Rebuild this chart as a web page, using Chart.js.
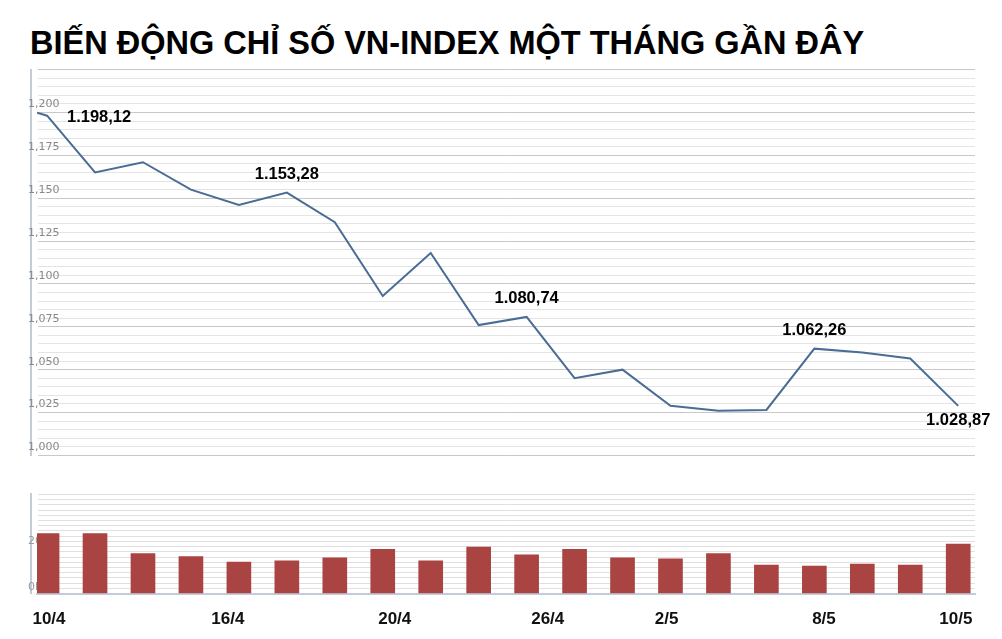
<!DOCTYPE html>
<html>
<head>
<meta charset="utf-8">
<script src="https://cdn.jsdelivr.net/npm/chart.js@4"></script>
<style>
body { margin: 0; background: #fff; width: 1002px; height: 639px; overflow: hidden; font-family: "Liberation Sans", Arial, sans-serif; }
h1 { position: absolute; left: 30px; top: 25px; margin: 0; font-size: 32.5px; font-weight: bold; color: #000; }
#top { position: absolute; left: 0; top: 66px; width: 1002px; height: 393px; }
#bot { position: absolute; left: 0; top: 488px; width: 1002px; height: 150px; }
</style>
</head>
<body>
<h1>BIẾN ĐỘNG CHỈ SỐ VN-INDEX MỘT THÁNG GẦN ĐÂY</h1>
<div id="top"><canvas id="lineChart"></canvas></div>
<div id="bot"><canvas id="barChart"></canvas></div>
<script>
// index values, one per session (first entry is the stub from the previous day)
const idxX = [-0.21, 0, 1, 2, 3, 4, 5, 6, 7, 8, 9, 10, 11, 12, 13, 14, 15, 16, 17, 18, 19]
const idxVal = [1199.8, 1198.12, 1165, 1171, 1155, 1146, 1153.28, 1136, 1093, 1118, 1076, 1080.74, 1045, 1050, 1029, 1026, 1026.5, 1062.26, 1060, 1056.5, 1028.87]
// labelled points: index into idxVal and text
const noteIdx = [1, 6, 11, 17, 20]
const noteText = ['1.198,12', '1.153,28', '1.080,74', '1.062,26', '1.028,87']
// volumes (millions)
const volX = [0, 1, 2, 3, 4, 5, 6, 7, 8, 9, 10, 11, 12, 13, 14, 15, 16, 17, 18, 19]
const volVal = [253, 253, 169, 156, 133, 138, 151, 187, 138, 196, 164, 187, 151, 147, 169, 120, 116, 124, 120, 209]
// date labels on the bottom axis
const dateLabels = ['10/4', '16/4', '20/4', '26/4', '2/5', '8/5', '10/5']
const datePos = [0.04, 3.77, 7.25, 10.44, 12.92, 16.2, 18.95]

const xMin = -0.21, xMax = 19.35

const notePlugin = {
    id: 'notes',
    afterDatasetsDraw(chart) {
        const ctx = chart.ctx
        const meta = chart.getDatasetMeta(0)
        ctx.save()
        ctx.font = 'bold 16.5px "Liberation Sans", Arial'
        ctx.fillStyle = '#000'
        ctx.textAlign = 'center'
        noteIdx.forEach((i, k) => {
            const p = meta.data[i]
            let dx = 0, dy = -14
            if (k === 0) { dx = 52; dy = 6 }
            if (k === 4) { dx = 0; dy = 19 }
            ctx.fillText(noteText[k], p.x + dx, p.y + dy)
        })
        ctx.restore()
    }
}

new Chart(document.getElementById('lineChart'), {
    type: 'line',
    data: {
        datasets: [{
            data: idxX.map((x, i) => ({ x: x, y: idxVal[i] })),
            borderColor: '#4a6d96',
            borderWidth: 2,
            pointRadius: 0,
            tension: 0
        }]
    },
    options: {
        responsive: true, maintainAspectRatio: false, animation: false,
        layout: { padding: { left: 37, right: 27, top: 0, bottom: 0 } },
        plugins: { legend: { display: false }, tooltip: { enabled: false } },
        scales: {
            x: { type: 'linear', min: xMin, max: xMax, display: false },
            y: {
                min: 1000, max: 1225,
                border: { color: '#c4ccd8', width: 2 },
                grid: {
                    color: c => c.tick.value % 25 === 0 ? '#c8c8c8' : '#e4e4e4',
                    drawTicks: false
                },
                ticks: {
                    stepSize: 5, autoSkip: false, mirror: true, padding: -3, labelOffset: -8,
                    color: '#888', font: { size: 11, family: 'Verdana, "DejaVu Sans"' },
                    callback: v => (v % 25 === 0 && v < 1225) ? v.toLocaleString('en-US') : ''
                }
            }
        }
    },
    plugins: [notePlugin]
})

new Chart(document.getElementById('barChart'), {
    type: 'bar',
    data: {
        datasets: [{
            data: volX.map((x, i) => ({ x: x, y: volVal[i] })),
            backgroundColor: '#a94442',
            barThickness: 24
        }]
    },
    options: {
        responsive: true, maintainAspectRatio: false, animation: false,
        layout: { padding: { left: 37, right: 27, top: 6, bottom: 0 } },
        plugins: { legend: { display: false }, tooltip: { enabled: false } },
        scales: {
            x: {
                type: 'linear', min: xMin, max: xMax, offset: false,
                border: { color: '#c4ccd8', width: 2 },
                grid: { display: false },
                afterBuildTicks: axis => { axis.ticks = datePos.map(v => ({ value: v })) },
                ticks: {
                    autoSkip: false, maxRotation: 0, color: '#111', padding: 8,
                    font: { size: 17, weight: 'bold', family: '"Liberation Sans", Arial' },
                    callback: (v, i) => dateLabels[i]
                }
            },
            y: {
                min: 0, max: 420, z: 1,
                border: { color: '#c4ccd8', width: 2 },
                grid: { color: '#e0e0e0', drawTicks: false, z: -1 },
                ticks: {
                    stepSize: 22, autoSkip: false, mirror: true, padding: -3, labelOffset: -6,
                    color: '#999', font: { size: 11, family: 'Verdana, "DejaVu Sans"' },
                    callback: v => v === 0 ? '0M' : (v === 198 ? '200M' : '')
                }
            }
        }
    }
})
</script>
</body>
</html>
